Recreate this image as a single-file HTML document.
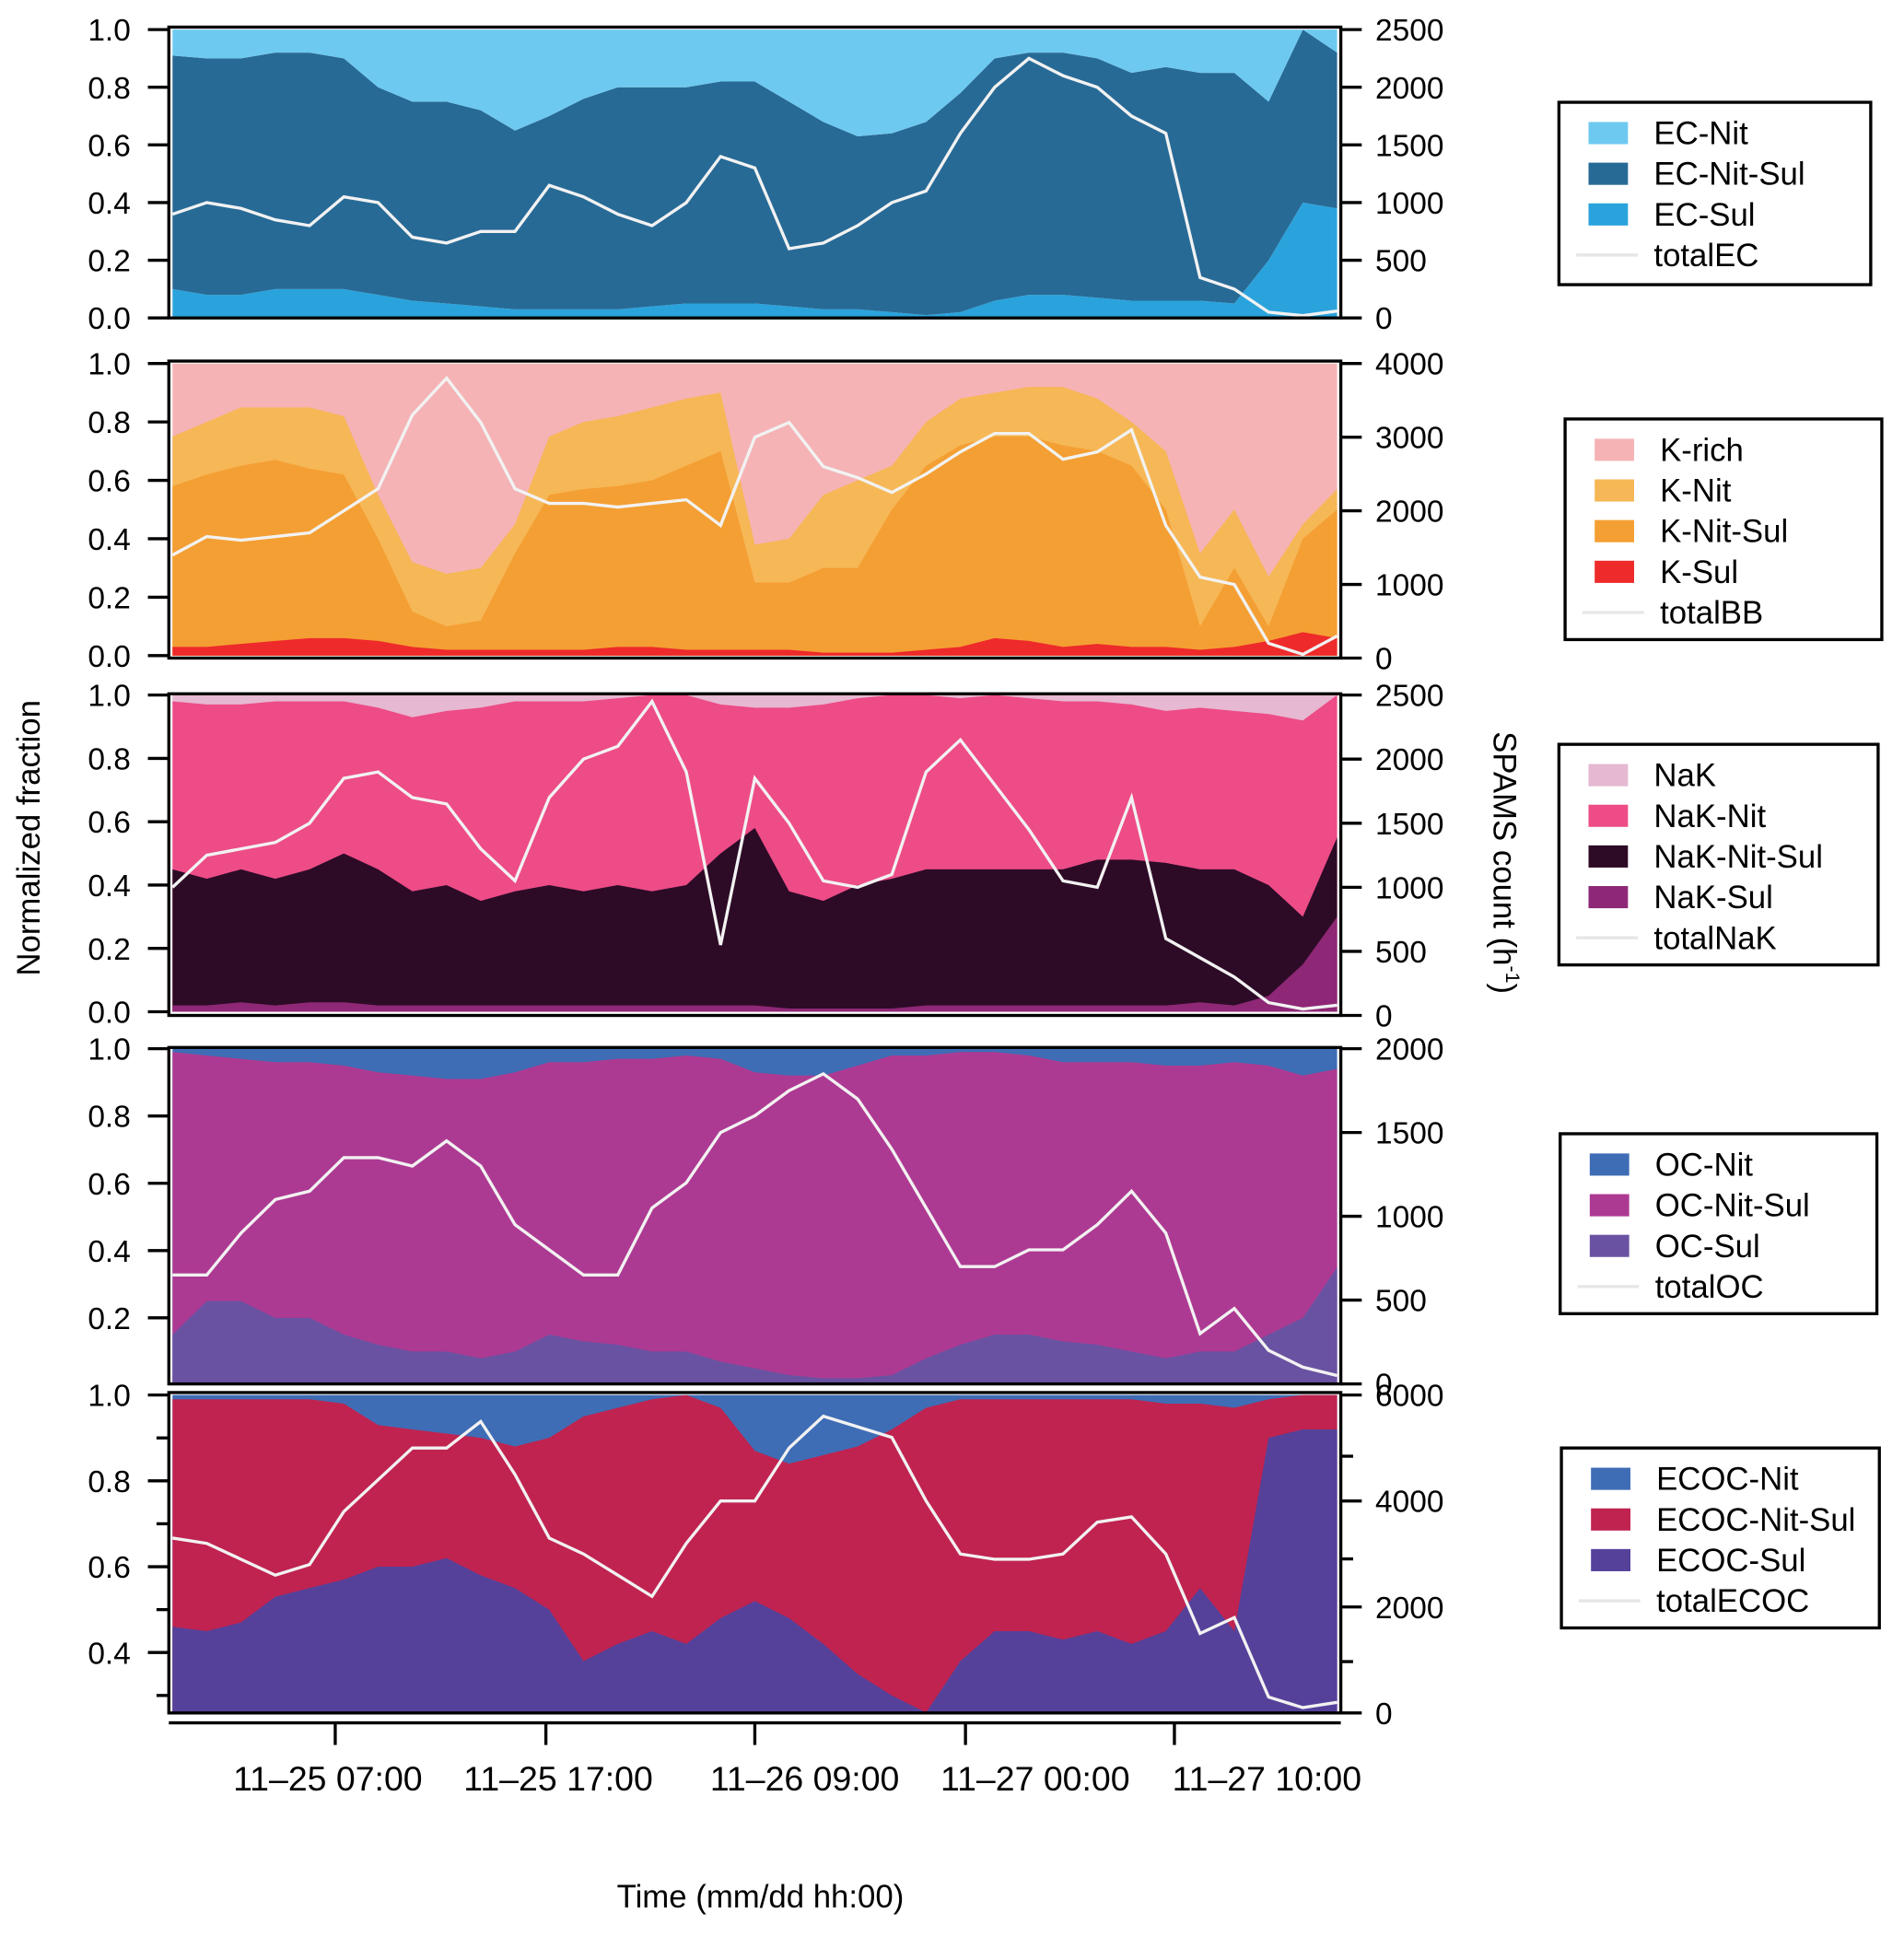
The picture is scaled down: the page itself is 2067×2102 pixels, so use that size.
<!DOCTYPE html>
<html><head><meta charset="utf-8">
<style>
html,body{margin:0;padding:0;background:#fff;}
svg{display:block;font-family:"Liberation Sans",Arial,sans-serif;}
</style></head>
<body>
<svg id="chart" width="2067" height="2102" viewBox="0 0 1545 1571" preserveAspectRatio="none" xmlns="http://www.w3.org/2000/svg">
<text x="32" y="680" font-size="26" text-anchor="middle" transform="rotate(-90 32 680)">Normalized fraction</text>
<text x="1212" y="700" font-size="26" text-anchor="middle" transform="rotate(90 1212 700)">SPAMS count (h<tspan font-size="16" dy="-10">-1</tspan><tspan dy="10">)</tspan></text>
<text x="617" y="1548" font-size="26" text-anchor="middle">Time (mm/dd hh:00)</text>
</svg>
<script>
// ---- data (index-based time axis, 35 samples) ----
const timeTicks = ["11–25 07:00","11–25 17:00","11–26 09:00","11–27 00:00","11–27 10:00"];
const timeTickIdx = [4.75, 10.9, 17.0, 23.15, 29.25];
const timeLabelX = [266, 453, 653, 840, 1028];

// Panel 1: EC
const ecSul = [0.1,0.08,0.08,0.1,0.1,0.1,0.08,0.06,0.05,0.04,0.03,0.03,0.03,0.03,0.04,0.05,0.05,0.05,0.04,0.03,0.03,0.02,0.01,0.02,0.06,0.08,0.08,0.07,0.06,0.06,0.06,0.05,0.2,0.4,0.38];
const ecNitSulCum = [0.91,0.9,0.9,0.92,0.92,0.9,0.8,0.75,0.75,0.72,0.65,0.7,0.76,0.8,0.8,0.8,0.82,0.82,0.75,0.68,0.63,0.64,0.68,0.78,0.9,0.92,0.92,0.9,0.85,0.87,0.85,0.85,0.75,1.0,0.92];
const totalEC = [900,1000,950,850,800,1050,1000,700,650,750,750,1150,1050,900,800,1000,1400,1300,600,650,800,1000,1100,1600,2000,2250,2100,2000,1750,1600,350,250,50,20,60];

// Panel 2: BB
const kSul = [0.03,0.03,0.04,0.05,0.06,0.06,0.05,0.03,0.02,0.02,0.02,0.02,0.02,0.03,0.03,0.02,0.02,0.02,0.02,0.01,0.01,0.01,0.02,0.03,0.06,0.05,0.03,0.04,0.03,0.03,0.02,0.03,0.05,0.08,0.06];
const kNitSulCum = [0.58,0.62,0.65,0.67,0.64,0.62,0.4,0.15,0.1,0.12,0.35,0.55,0.57,0.58,0.6,0.65,0.7,0.25,0.25,0.3,0.3,0.5,0.65,0.72,0.75,0.75,0.72,0.7,0.65,0.5,0.1,0.3,0.1,0.4,0.5];
const kNitCum = [0.75,0.8,0.85,0.85,0.85,0.82,0.55,0.32,0.28,0.3,0.45,0.75,0.8,0.82,0.85,0.88,0.9,0.38,0.4,0.55,0.6,0.65,0.8,0.88,0.9,0.92,0.92,0.88,0.8,0.7,0.35,0.5,0.27,0.45,0.57];
const totalBB = [1400,1650,1600,1650,1700,2000,2300,3300,3800,3200,2300,2100,2100,2050,2100,2150,1800,3000,3200,2600,2450,2250,2500,2800,3050,3050,2700,2800,3100,1800,1100,1000,200,50,300];

// Panel 3: NaK
const nakSul = [0.02,0.02,0.03,0.02,0.03,0.03,0.02,0.02,0.02,0.02,0.02,0.02,0.02,0.02,0.02,0.02,0.02,0.02,0.01,0.01,0.01,0.01,0.02,0.02,0.02,0.02,0.02,0.02,0.02,0.02,0.03,0.02,0.05,0.15,0.3];
const nakNitSulCum = [0.45,0.42,0.45,0.42,0.45,0.5,0.45,0.38,0.4,0.35,0.38,0.4,0.38,0.4,0.38,0.4,0.5,0.58,0.38,0.35,0.4,0.42,0.45,0.45,0.45,0.45,0.45,0.48,0.48,0.47,0.45,0.45,0.4,0.3,0.55];
const nakNitCum = [0.98,0.97,0.97,0.98,0.98,0.98,0.96,0.93,0.95,0.96,0.98,0.98,0.98,0.99,1,1,0.97,0.96,0.96,0.97,0.99,1,1,0.99,1,0.99,0.98,0.98,0.97,0.95,0.96,0.95,0.94,0.92,1.0];
const totalNaK = [1000,1250,1300,1350,1500,1850,1900,1700,1650,1300,1050,1700,2000,2100,2450,1900,550,1850,1500,1050,1000,1100,1900,2150,1800,1450,1050,1000,1700,600,450,300,100,50,80];

// Panel 4: OC
const ocSul = [0.15,0.25,0.25,0.2,0.2,0.15,0.12,0.1,0.1,0.08,0.1,0.15,0.13,0.12,0.1,0.1,0.07,0.05,0.03,0.02,0.02,0.03,0.08,0.12,0.15,0.15,0.13,0.12,0.1,0.08,0.1,0.1,0.15,0.2,0.35];
const ocNitSulCum = [0.99,0.98,0.97,0.96,0.96,0.95,0.93,0.92,0.91,0.91,0.93,0.96,0.96,0.97,0.97,0.98,0.97,0.93,0.92,0.92,0.95,0.98,0.98,0.99,0.99,0.98,0.96,0.96,0.96,0.95,0.95,0.96,0.95,0.92,0.94];
const totalOC = [650,650,900,1100,1150,1350,1350,1300,1450,1300,950,800,650,650,1050,1200,1500,1600,1750,1850,1700,1400,1050,700,700,800,800,950,1150,900,300,450,200,100,50];

// Panel 5: ECOC
const ecocSulCum = [0.46,0.45,0.47,0.53,0.55,0.57,0.6,0.6,0.62,0.58,0.55,0.5,0.38,0.42,0.45,0.42,0.48,0.52,0.48,0.42,0.35,0.3,0.26,0.38,0.45,0.45,0.43,0.45,0.42,0.45,0.55,0.45,0.9,0.92,0.92];
const ecocNitSulCum = [0.99,0.99,0.99,0.99,0.99,0.98,0.93,0.92,0.91,0.9,0.88,0.9,0.95,0.97,0.99,1,0.97,0.87,0.84,0.86,0.88,0.92,0.97,0.99,0.99,0.99,0.99,0.99,0.99,0.98,0.98,0.97,0.99,1.0,1.0];
const totalECOC = [3300,3200,2900,2600,2800,3800,4400,5000,5000,5500,4500,3300,3000,2600,2200,3200,4000,4000,5000,5600,5400,5200,4000,3000,2900,2900,3000,3600,3700,3000,1500,1800,300,100,200];

const NS = "http://www.w3.org/2000/svg";
const svg = document.getElementById("chart");
const X0 = 140, X1 = 1085;
function xs(i){ return X0 + (X1 - X0) * i / (totalEC.length - 1); }
function mk(tag, attrs, parent){
  const e = document.createElementNS(NS, tag);
  for (const k in attrs) e.setAttribute(k, attrs[k]);
  (parent || svg).appendChild(e);
  return e;
}
function poly(top, bottom, ysc){
  let pts = [];
  top.forEach((v,i)=>pts.push(xs(i).toFixed(1)+","+ysc(v).toFixed(1)));
  for (let i = bottom.length-1; i >= 0; i--) pts.push(xs(i).toFixed(1)+","+ysc(bottom[i]).toFixed(1));
  return pts.join(" ");
}

const panels = [
 {name:"ec", top:22, bot:258, y1:24, y0:258, vmin:0, rmax:2500, rTicks:[0,500,1000,1500,2000,2500], lTicks:[0,0.2,0.4,0.6,0.8,1.0],
  layers:[["EC-Sul","#2aa3dc",null,ecSul],["EC-Nit-Sul","#276a96",ecSul,ecNitSulCum],["EC-Nit","#6ec9f0",ecNitSulCum,"one"]],
  total:totalEC, legend:{x:1265,y:83,w:253,h:148,items:[["EC-Nit","#6ec9f0"],["EC-Nit-Sul","#276a96"],["EC-Sul","#2aa3dc"],["totalEC",null]]}},
 {name:"bb", top:293, bot:534, y1:295, y0:532, vmin:0, rmax:4000, rTicks:[0,1000,2000,3000,4000], lTicks:[0,0.2,0.4,0.6,0.8,1.0],
  layers:[["K-rich","#f5b3b5","zero","one"],["K-Nit","#f6b756","zero",kNitCum],["K-Nit-Sul","#f49f33","zero",kNitSulCum],["K-Sul","#ee2a2a","zero",kSul]],
  total:totalBB, legend:{x:1270,y:340,w:257,h:179,items:[["K-rich","#f5b3b5"],["K-Nit","#f6b756"],["K-Nit-Sul","#f49f33"],["K-Sul","#ee2a2a"],["totalBB",null]]}},
 {name:"nak", top:563, bot:824, y1:564, y0:821, vmin:0, rmax:2500, rTicks:[0,500,1000,1500,2000,2500], lTicks:[0,0.2,0.4,0.6,0.8,1.0],
  layers:[["NaK","#e6b8d1","zero","one"],["NaK-Nit","#ed4c87","zero",nakNitCum],["NaK-Nit-Sul","#2d0b27","zero",nakNitSulCum],["NaK-Sul","#8e2775","zero",nakSul]],
  total:totalNaK, legend:{x:1265,y:604,w:259,h:179,items:[["NaK","#e6b8d1"],["NaK-Nit","#ed4c87"],["NaK-Nit-Sul","#2d0b27"],["NaK-Sul","#8e2775"],["totalNaK",null]]}},
 {name:"oc", top:850, bot:1123, y1:851, y0:1124, vmin:0, rmax:2000, rTicks:[0,500,1000,1500,2000], lTicks:[0.2,0.4,0.6,0.8,1.0],
  layers:[["OC-Nit","#3e6db5","zero","one"],["OC-Nit-Sul","#ad3a92","zero",ocNitSulCum],["OC-Sul","#6a52a2","zero",ocSul]],
  total:totalOC, legend:{x:1266,y:920,w:257,h:146,items:[["OC-Nit","#3e6db5"],["OC-Nit-Sul","#ad3a92"],["OC-Sul","#6a52a2"],["totalOC",null]]}},
 {name:"ecoc", top:1130, bot:1390, y1:1132, y0:1132+0.74*348.3, vmin:0.26, rmax:6000, rTicks:[0,2000,4000,6000], lTicks:[0.4,0.6,0.8,1.0],
  layers:[["ECOC-Nit","#3e6db5","zero","one"],["ECOC-Nit-Sul","#c02350","zero",ecocNitSulCum],["ECOC-Sul","#55419a","zero",ecocSulCum]],
  total:totalECOC, legend:{x:1267,y:1175,w:258,h:146,items:[["ECOC-Nit","#3e6db5"],["ECOC-Nit-Sul","#c02350"],["ECOC-Sul","#55419a"],["totalECOC",null]]}}
];

panels.forEach(p=>{
  const g = mk("g",{});
  
  
  const ysc = v => p.y0 + (p.y1 - p.y0) * (v - p.vmin) / (1 - p.vmin);
  const yr = v => p.bot - (p.bot - p.y1) * v / p.rmax;
  const n = totalEC.length;
  p.layers.forEach(L=>{
    const top = L[3] === "one" ? new Array(n).fill(1) : L[3];
    const bottom = (L[2] === null || L[2] === "zero") ? new Array(n).fill(p.vmin) : L[2];
    const el = mk("polygon",{points:poly(top,bottom,ysc),fill:L[1]},g);
    
    
  });
  const d = p.total.map((v,i)=>(i?"L":"M")+xs(i).toFixed(1)+","+yr(Math.min(v,p.rmax)).toFixed(1)).join(" ");
  const ln = mk("path",{d:d,fill:"none",stroke:"#f2f2f2","stroke-width":2.5},g);
  
  
  const fr = mk("rect",{x:137,y:p.top,width:951,height:p.bot-p.top,fill:"none",stroke:"#000","stroke-width":2.5},g);
  
  
  p.lTicks.forEach(v=>{
    const y = ysc(v);
    mk("line",{x1:120,x2:137,y1:y,y2:y,stroke:"#000","stroke-width":2.5},g);
    const t = mk("text",{x:106,y:y+9,"font-size":25,"text-anchor":"end"},g);
    t.textContent = v.toFixed(1);
    
    
  });
  p.rTicks.forEach(v=>{
    const y = yr(v);
    mk("line",{x1:1088,x2:1105,y1:y,y2:y,stroke:"#000","stroke-width":2.5},g);
    const t = mk("text",{x:1116,y:y+9,"font-size":25},g);
    t.textContent = String(v);
    
    
  });
  const lg = p.legend;
  const lgG = mk("g",{},g);
  
  
  mk("rect",{x:lg.x,y:lg.y,width:lg.w,height:lg.h,fill:"#fff",stroke:"#000","stroke-width":2.5},lgG);
  lg.items.forEach((it,k)=>{
    const cy = lg.y + 25 + k*33;
    if (it[1]) mk("rect",{x:lg.x+24,y:cy-9,width:32,height:18,fill:it[1]},lgG);
    else mk("line",{x1:lg.x+14,x2:lg.x+64,y1:cy,y2:cy,stroke:"#e6e6e6","stroke-width":2.5},lgG);
    const t = mk("text",{x:lg.x+77,y:cy+9,"font-size":26},lgG);
    t.textContent = it[0];
    
    
  });
});

[0.3,0.5,0.7,0.9].forEach(v=>{
  const y = 1132 + (1-v)*348.3;
  mk("line",{x1:127,x2:137,y1:y,y2:y,stroke:"#000","stroke-width":2.5});
});
[1000,3000,5000].forEach(v=>{
  const y = 1390 - 250*v/6000;
  mk("line",{x1:1088,x2:1098,y1:y,y2:y,stroke:"#000","stroke-width":2.5});
});
const ax = mk("line",{x1:137,x2:1088,y1:1398,y2:1398,stroke:"#000","stroke-width":2.5});


timeTicks.forEach((lab,k)=>{
  const x = xs(timeTickIdx[k]);
  mk("line",{x1:x,x2:x,y1:1398,y2:1416,stroke:"#000","stroke-width":2.5});
  const t = mk("text",{x:timeLabelX[k],y:1453,"font-size":28,"text-anchor":"middle"});
  t.textContent = lab;
  
  
});
</script>
</body></html>
